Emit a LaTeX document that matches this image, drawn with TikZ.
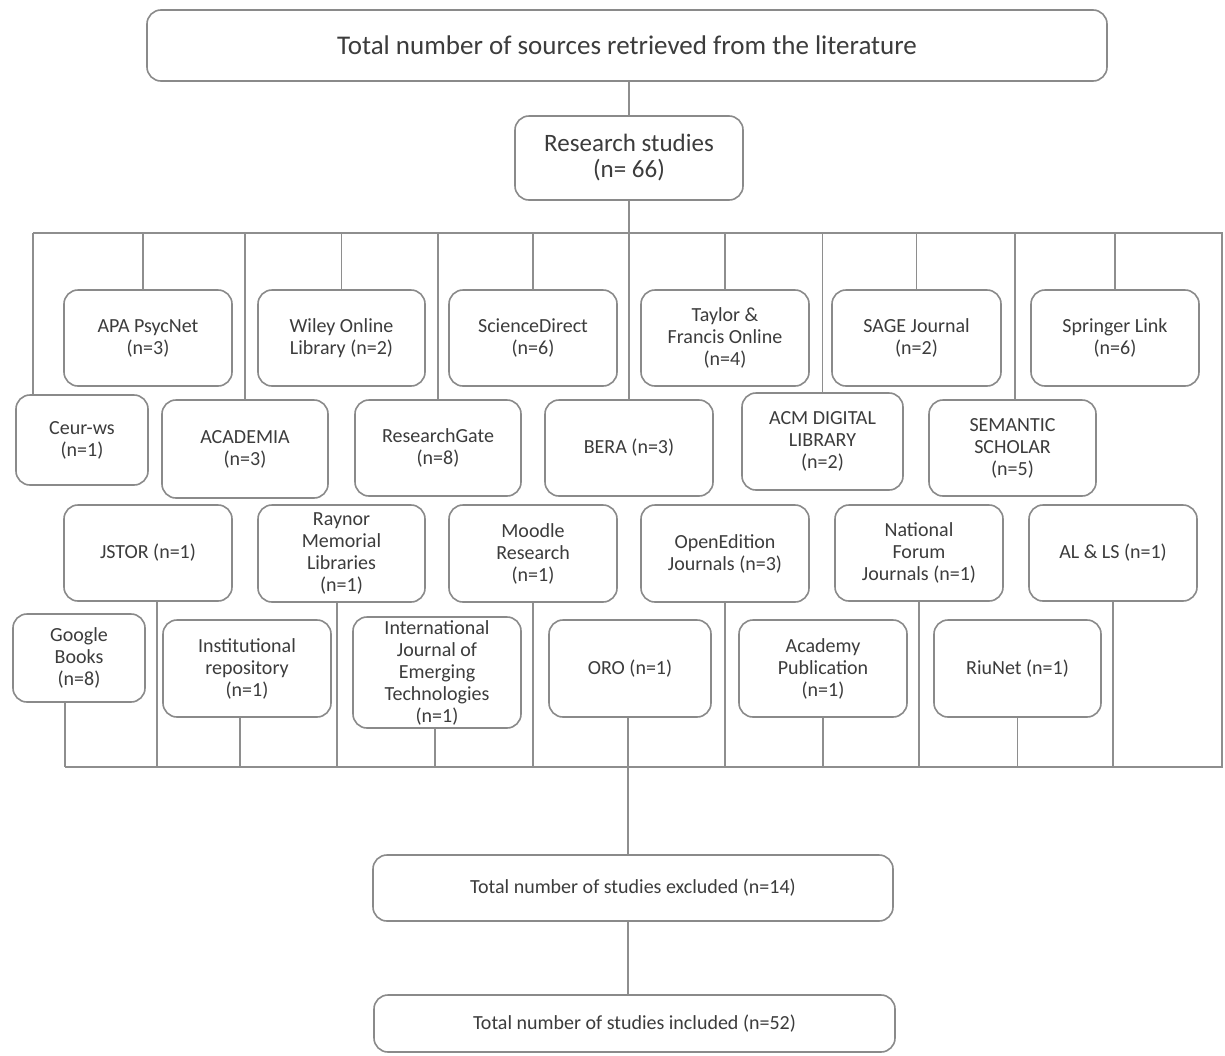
\documentclass[tikz,border=0pt]{standalone}
\usepackage{fontspec}
\setmainfont{Carlito}
\usepackage{tikz}
\usetikzlibrary{positioning}
\definecolor{boxline}{HTML}{8A8A8A}
\definecolor{linkline}{HTML}{8E8E8E}
\definecolor{ink}{HTML}{3C3C3C}
\definecolor{pagebg}{HTML}{FFFFFF}
\tikzset{
  every node/.append style={text=ink},
  box/.style 2 args={
    draw=boxline,
    line width=0.8pt,
    rounded corners=7pt,
    align=center,
    inner sep=0pt,
    minimum width=#1*0.5pt,
    minimum height=#2*0.5pt,
    font=\fontsize{10}{11}\selectfont,
  },
  link/.style={draw=linkline, line width=0.75pt},
}

\begin{document}
\begin{tikzpicture}[x=0.5pt,y=-0.5pt]
  \fill[pagebg] (0,0) rectangle (1225,1055);
  \useasboundingbox (0,0) rectangle (1225,1055);

  % top boxes
  \node[box={960}{71}, font=\fontsize{13.5}{15}\selectfont] (source) at (627,45.5) {Total number of sources retrieved from the literature};
  \node[box={228}{84}, font=\fontsize{12.5}{13}\selectfont] (research) at (629,158) {Research studies\\(n= 66)};

  % row 1
  \foreach \nm/\xx/\yy/\ww/\hh/\txt in {
    apa/148/338/168/96/{APA PsycNet\\(n=3)},
    wiley/341.5/338/167/96/{Wiley Online\\Library (n=2)},
    sciencedirect/533/338/168/96/{ScienceDirect\\(n=6)},
    taylor/725/338/168/96/{Taylor \&\\Francis Online\\(n=4)},
    sage/916.5/338/169/96/{SAGE Journal\\(n=2)},
    springer/1115/338/168/96/{Springer Link\\(n=6)}} {
    \node[box={\ww}{\hh}] (\nm) at (\xx,\yy) {\txt};
  }

  % row 2
  \foreach \nm/\xx/\yy/\ww/\hh/\txt in {
    ceur/82/440/132/90/{Ceur-ws\\(n=1)},
    academia/245/449/166/98/{ACADEMIA\\(n=3)},
    researchgate/438/448/166/96/{ResearchGate\\(n=8)},
    bera/629/448/168/96/{BERA (n=3)},
    acm/822.5/441.5/161/97/{ACM DIGITAL\\LIBRARY\\(n=2)},
    semantic/1012.5/448/167/96/{SEMANTIC\\SCHOLAR\\(n=5)}} {
    \node[box={\ww}{\hh}] (\nm) at (\xx,\yy) {\txt};
  }

  % row 3
  \foreach \nm/\xx/\yy/\ww/\hh/\txt in {
    jstor/148/553/168/96/{JSTOR (n=1)},
    raynor/341.5/553.5/167/97/{Raynor\\Memorial\\Libraries\\(n=1)},
    moodle/533/553.5/168/97/{Moodle\\Research\\(n=1)},
    openedition/725/553.5/168/97/{OpenEdition\\Journals (n=3)},
    national/919/553/168/96/{National\\Forum\\Journals (n=1)},
    alls/1113/553/168/96/{AL \& LS (n=1)}} {
    \node[box={\ww}{\hh}] (\nm) at (\xx,\yy) {\txt};
  }

  % row 4
  \foreach \nm/\xx/\yy/\ww/\hh/\txt in {
    google/79/658/132/88/{Google\\Books\\(n=8)},
    institutional/247/668.5/168/97/{Institutional\\repository\\(n=1)},
    international/437/672.5/168/111/{International\\Journal of\\Emerging\\Technologies\\(n=1)},
    oro/630/668.5/162/97/{ORO (n=1)},
    academy/823/668.5/168/97/{Academy\\Publication\\(n=1)},
    riunet/1017.5/668.5/167/97/{RiuNet (n=1)}} {
    \node[box={\ww}{\hh}] (\nm) at (\xx,\yy) {\txt};
  }

  % bottom boxes
  \node[box={520}{66}] (excluded) at (633,888) {Total number of studies excluded (n=14)};
  \node[box={521}{57}] (included) at (634.5,1023.5) {Total number of studies included (n=52)};

  % bus corners
  \coordinate (busNE) at (1222,233);
  \coordinate (busSE) at (1222,767);

  % drops from the top bus
  \foreach \nm/\dx in {ceur/-24.5, apa/-2.5, wiley/0, academia/0, sciencedirect/0, researchgate/0,
    taylor/0, sage/0, acm/0, semantic/1.25, springer/0} {
    \coordinate (top-\nm) at ([xshift=\dx pt]\nm.north);
    \draw[link] (top-\nm) -- (top-\nm |- busNE);
  }

  % drops to the bottom bus
  \foreach \nm/\dx in {google/-7, jstor/4.5, institutional/-3.5, raynor/-2.25, international/-1,
    moodle/0, openedition/0, academy/0, national/0, riunet/0, alls/0} {
    \coordinate (bot-\nm) at ([xshift=\dx pt]\nm.south);
    \draw[link] (bot-\nm) -- (bot-\nm |- busSE);
  }

  % buses
  \draw[link] (top-ceur |- busNE) -- (busNE) -- (busSE) -- (bot-google |- busSE);

  % main spine
  \draw[link] (source.south -| research) -- (research.north);
  \draw[link] (research.south) -- (bera.north);
  \coordinate (bot-oro) at ([xshift=-1pt]oro.south);
  \draw[link] (bot-oro) -- (bot-oro |- excluded.north);
  \draw[link] (bot-oro |- excluded.south) -- (bot-oro |- included.north);
\end{tikzpicture}
\end{document}
